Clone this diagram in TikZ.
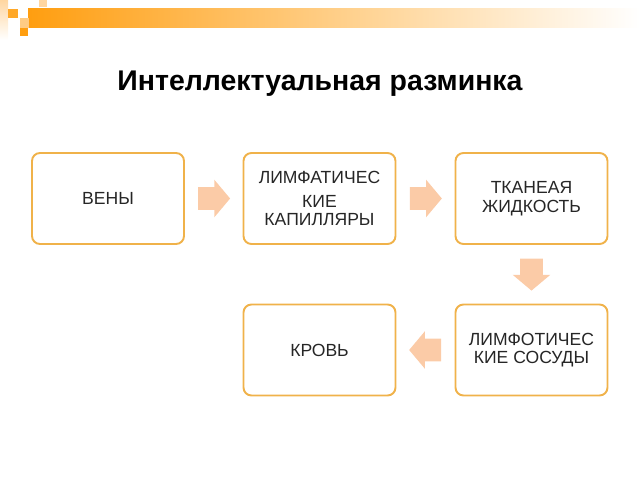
\documentclass[tikz,border=0pt]{standalone}
\usepackage{fontspec}
\setmainfont{Liberation Sans}
\usetikzlibrary{shapes.arrows}
\usetikzlibrary{calc}
\definecolor{mborder}{RGB}{240,178,74}
\definecolor{mpeach}{RGB}{251,203,167}
\definecolor{morange}{RGB}{255,158,16}
\definecolor{mlight}{RGB}{255,214,160}
\tikzset{box/.style = {draw=mborder, line width=1.1pt, rounded corners=4.5pt, fill=white,
                       minimum width=3.04cm, minimum height=1.82cm, align=center,
                       font=\fontsize{10}{10.5}\selectfont, text=black!85}}
\tikzset{flow/.style = {single arrow, fill=mpeach, draw=none, inner xsep=0pt, inner ysep=0.22cm,
                        minimum height=0.64cm, minimum width=0.74cm, anchor=tail,
                        single arrow head extend=0.15cm, single arrow tip angle=100}}

\begin{document}
\begin{tikzpicture}[x=0.02cm, y=-0.02cm]
    \useasboundingbox (0, 0) rectangle (640, 480);
    % header bar
    \shade [left color=morange, right color=white] (28, 8) rectangle (640, 27);
    \shade [top color=mlight, bottom color=white] (0, 0) rectangle (8, 40);
    \fill [mlight] (39, 0) rectangle (47, 7);
    \fill [morange!90] (8, 9) rectangle (18, 18);
    \fill [mlight!80!morange] (20, 18) rectangle (29, 28);
    \fill [morange] (20, 28) rectangle (28, 36);
    \node [font=\fontsize{16.2}{19}\selectfont\bfseries] (title) at (320, 84) {Интеллектуальная разминка};
    % boxes
    \node [box] (veny) at (108, 198.5) {ВЕНЫ};
    \node [box] (kapill) at (319.5, 198.5) {ЛИМФАТИЧЕС\\[3pt]КИЕ\\КАПИЛЛЯРЫ};
    \node [box] (zhidk) at (531.5, 198.5) {ТКАНЕАЯ\\ЖИДКОСТЬ};
    \node [box] (sosudy) at (531.5, 350) {ЛИМФОТИЧЕС\\КИЕ СОСУДЫ};
    \node [box] (krov) at (319.5, 350) {КРОВЬ};
    % block arrows
    \node [flow] (a1) at ($(veny.east)!0.5!(kapill.west)+(-16,0)$) {};
    \node [flow] (a2) at ($(kapill.east)!0.5!(zhidk.west)+(-16,0)$) {};
    \node [flow, rotate=-90] (a3) at ($(zhidk.south)!0.5!(sosudy.north)+(0,-16)$) {};
    \node [flow, rotate=180] (a4) at ($(sosudy.west)!0.5!(krov.east)+(16,0)$) {};
  \end{tikzpicture}
\end{document}
